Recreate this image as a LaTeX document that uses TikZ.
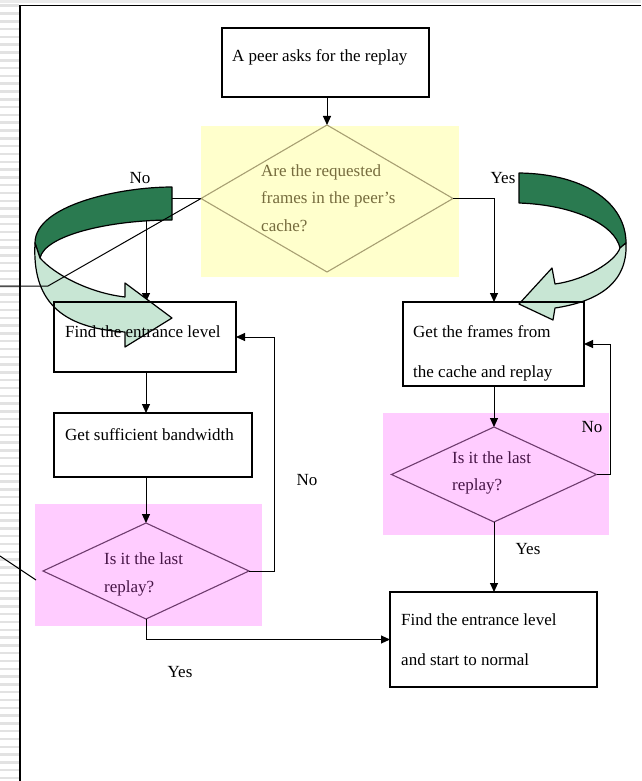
\documentclass[tikz,border=0pt]{standalone}
\usepackage{fontspec}
\setmainfont{Liberation Serif}
\usetikzlibrary{arrows.meta,shapes.geometric}
\definecolor{dkgreen}{RGB}{42,122,80}
\definecolor{ltgreen}{RGB}{200,230,212}
\definecolor{hlyellow}{RGB}{255,255,204}
\definecolor{hlpink}{RGB}{255,204,255}
\definecolor{olivedraw}{RGB}{168,160,115}
\definecolor{olivetext}{RGB}{118,108,62}
\definecolor{purpdraw}{RGB}{110,60,110}
\definecolor{purptext}{RGB}{70,20,70}
\definecolor{stripe}{RGB}{226,226,226}
\begin{document}
\begin{tikzpicture}[x=1pt,y=-1pt,
  conn/.style={line width=1pt,-{Triangle[length=9pt,width=8pt]}},
  plainline/.style={line width=1pt},
  procbox/.style={draw, line width=1.1pt, rectangle, inner sep=0pt, outer sep=0pt, anchor=north west},
  decis/.style={diamond, draw, line width=1.1pt, inner sep=0pt, outer sep=0pt},
  txt/.style={anchor=west, inner sep=0pt, font=\fontsize{17}{20}\selectfont},
  lbl/.style={inner sep=0pt, font=\fontsize{17}{20}\selectfont},
  curved/.style={draw=black, line width=1.2pt, line join=round}
]
\useasboundingbox (0,0) rectangle (641,781);
\fill[white] (0,0) rectangle (641,781);
% top pale strip and left stripes
\fill[stripe!70] (0,0) rectangle (641,3.5);
\foreach \i in {0,...,99} {
  \fill[stripe] (0,{4.5+\i*7.8}) rectangle (18.5,{7+\i*7.8});
}
% frame
\draw[line width=1.6pt] (20,781) -- (20,5.5) -- (641,5.5);
% highlight areas
\fill[hlyellow] (201,126) rectangle (459,277);
\fill[hlpink] (35,504) rectangle (262,626);
\fill[hlpink] (383,413) rectangle (609,535);
% decisions
\node[decis, draw=olivedraw, minimum width=252pt, minimum height=147pt] (d1) at (327,198.5) {};
\node[decis, draw=purpdraw, minimum width=206pt, minimum height=96pt] (d2) at (146,571) {};
\node[decis, draw=purpdraw, minimum width=205pt, minimum height=95pt] (d3) at (494,474.5) {};
% process boxes
\node[procbox, minimum width=207pt, minimum height=69pt] (top) at (222,28) {};
\node[procbox, minimum width=182pt, minimum height=70pt] (find) at (54,302) {};
\node[procbox, minimum width=198pt, minimum height=64pt] (suff) at (54,413) {};
\node[procbox, minimum width=181pt, minimum height=84pt] (frames) at (403,302) {};
\node[procbox, minimum width=207pt, minimum height=95pt] (final) at (390,592) {};
% connectors
\draw[conn] (d1.north |- top.south) -- (d1.north);
\draw[conn] (d1.west) -| (d2.north |- find.north);
\draw[conn] (d1.east) -| (d3.north |- frames.north);
\draw[conn] (d2.north |- find.south) -- (d2.north |- suff.north);
\draw[conn] (d2.north |- suff.south) -- (d2.north);
\draw[conn] (d2.east) -- ++(25,0) |- (find.east);
\draw[conn] (d2.south) |- (final.west);
\draw[conn] (d3.north |- frames.south) -- (d3.north);
\draw[conn] (d3.east) -- ++(14,0) |- (frames.east);
\draw[conn] (d3.south) -- (d3.south |- final.north);
% curved arrows
\filldraw[curved, fill=dkgreen] (172,187) .. controls (120,187) and (35,205) .. (35,243)
  -- (40,258) .. controls (45,235) and (110,220) .. (172,220) -- cycle;
\filldraw[curved, fill=ltgreen] (35,243) .. controls (32,300) and (60,328) .. (125,332)
  -- (125,347) -- (172,318) -- (125,283) -- (125,297)
  .. controls (90,293) and (55,275) .. (40,258) -- cycle;
\filldraw[curved, fill=dkgreen] (519,173) .. controls (588,174) and (626,205) .. (626,243)
  -- (620,248) .. controls (615,225) and (575,205) .. (519,203) -- cycle;
\filldraw[curved, fill=ltgreen] (626,243) .. controls (628,285) and (595,302) .. (555,308)
  -- (553,320) -- (519,304) -- (552,268) -- (555,284)
  .. controls (585,280) and (615,262) .. (620,248) -- cycle;
% callout lines
\coordinate (c1) at (0,286);
\coordinate (c2) at (48,286);
\coordinate (c3) at (0,556);
\coordinate (c4) at (36,580);
\draw[plainline] (c1) -- (c2) -- (d1.west);
\draw[plainline] (c3) -- (c4);
% redraw box outlines over arrows
\draw[line width=1.1pt] (find.north west) rectangle (find.south east);
\draw[line width=1.1pt] (frames.north west) rectangle (frames.south east);
% texts
\node[txt] (t1) at (232,57) {A peer asks for the replay};
\node[txt, text=olivetext] (t2a) at (261,172) {Are the requested};
\node[txt, text=olivetext] (t2b) at (261,199) {frames in the peer’s};
\node[txt, text=olivetext] (t2c) at (261,226) {cache?};
\node[txt] (t3) at (65,332) {Find the entrance level};
\node[txt] (t4) at (65,435) {Get sufficient bandwidth};
\node[txt, text=purptext] (t5a) at (104,559) {Is it the last};
\node[txt, text=purptext] (t5b) at (104,588) {replay?};
\node[txt] (t6a) at (413,332) {Get the frames from};
\node[txt] (t6b) at (413,373) {the cache and replay};
\node[txt, text=purptext] (t7a) at (452,458) {Is it the last};
\node[txt, text=purptext] (t7b) at (452,486) {replay?};
\node[txt] (t8a) at (401,620) {Find the entrance level};
\node[txt] (t8b) at (401,660) {and start to normal};
% labels
\node[lbl] (n1) at (140,178) {No};
\node[lbl] (y1) at (503,178) {Yes};
\node[lbl] (n2) at (307,480) {No};
\node[lbl] (n3) at (592,427) {No};
\node[lbl] (y2) at (528,549) {Yes};
\node[lbl] (y3) at (180,672) {Yes};
\end{tikzpicture}
\end{document}
